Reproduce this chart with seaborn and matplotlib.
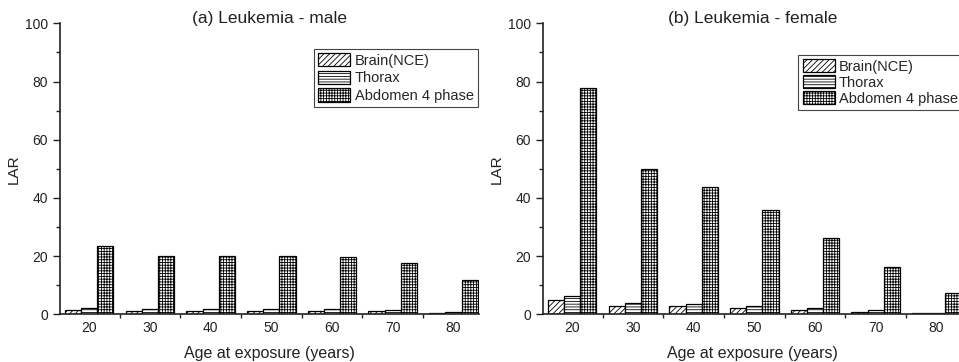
import matplotlib
matplotlib.use("Agg")
import matplotlib.pyplot as plt
import seaborn as sns
import pandas as pd
import numpy as np
from matplotlib.ticker import FixedLocator, MultipleLocator

ages = ["20", "30", "40", "50", "60", "70", "80"]
series = ["Brain(NCE)", "Thorax", "Abdomen 4 phase"]

male_brain = [1.4, 1.1, 1.1, 1.1, 1.1, 1.0, 0.6]
male_thorax = [2.0, 1.8, 1.8, 1.8, 1.8, 1.5, 0.9]
male_abdomen = [23.3, 20.0, 20.0, 20.0, 19.8, 17.6, 11.7]

female_brain = [5.0, 2.9, 2.7, 2.1, 1.6, 0.8, 0.35]
female_thorax = [6.4, 4.0, 3.5, 2.9, 2.2, 1.4, 0.6]
female_abdomen = [77.7, 49.8, 43.6, 35.8, 26.3, 16.3, 7.3]

titles = ["(a) Leukemia - male", "(b) Leukemia - female"]
hatches = ["//////", "------", "++++++"]

sns.set_theme(style="ticks")
plt.rcParams['font.family'] = ['Liberation Sans', 'DejaVu Sans']
plt.rcParams['hatch.linewidth'] = 0.6

def make_df(b, t, a):
    rows = []
    for name, vals in zip(series, [b, t, a]):
        for age, v in zip(ages, vals):
            rows.append({"age": age, "series": name, "LAR": v})
    return pd.DataFrame(rows)

dfs = [make_df(male_brain, male_thorax, male_abdomen),
       make_df(female_brain, female_thorax, female_abdomen)]

fig = plt.figure(figsize=(9.59, 3.62), dpi=100)
W, H = 959.0, 362.0
axw = 419 / W
bottom = (H - 314.3) / H
height = (314.3 - 23.3) / H
ax_lefts = [60 / W, 543 / W]
leg_anchor = [(0.606, 0.913), (0.609, 0.891)]
leg_spacing = [0.22, 0.1]
txt = "#222222"

for i in range(2):
    ax = fig.add_axes([ax_lefts[i], bottom, axw, height])
    sns.barplot(data=dfs[i], x="age", y="LAR", hue="series", ax=ax,
                palette=["white"] * 3, edgecolor="black", linewidth=0.9,
                width=0.8, legend=False, saturation=1)
    for cont, h in zip(ax.containers, hatches):
        for p in cont:
            p.set_hatch(h)
            p.set_facecolor("white")
            p.set_edgecolor("black")
    ax.set_xlim(-0.48, 6.42)
    ax.set_ylim(0, 100)
    ax.set_yticks([0, 20, 40, 60, 80, 100])
    ax.yaxis.set_minor_locator(MultipleLocator(10))
    ax.xaxis.set_minor_locator(FixedLocator(np.arange(-0.5, 6.6, 1.0)))
    ax.tick_params(axis="x", which="major", length=0, pad=5, labelsize=10, colors=txt)
    ax.tick_params(axis="x", which="minor", length=3, width=1, direction="out")
    ax.tick_params(axis="y", which="major", length=5, width=1, direction="out", labelsize=10, colors=txt)
    ax.tick_params(axis="y", which="minor", length=3, width=1, direction="out")
    for s in ["top", "right"]:
        ax.spines[s].set_visible(False)
    for s in ["left", "bottom"]:
        ax.spines[s].set_linewidth(1.2)
        ax.spines[s].set_color(txt)
    ax.set_xlabel("Age at exposure (years)", fontsize=11.5, labelpad=8, color=txt)
    ax.set_ylabel("LAR", fontsize=11, labelpad=3, color=txt)
    ax.text(0.5, 1.016, titles[i], transform=ax.transAxes, ha="center", va="center",
            fontsize=12.5, color=txt)
    leg = ax.legend(handles=ax.containers, labels=series, loc="upper left",
                    bbox_to_anchor=leg_anchor[i], fontsize=10.5, frameon=True,
                    fancybox=False, edgecolor="#444444", framealpha=1,
                    handlelength=2.2, handleheight=1.0, labelspacing=leg_spacing[i],
                    borderpad=0.3, handletextpad=0.3, borderaxespad=0)
    leg.get_frame().set_linewidth(0.8)
    ax.patch.set_alpha(0)

fig.savefig("out.png", dpi=100)
